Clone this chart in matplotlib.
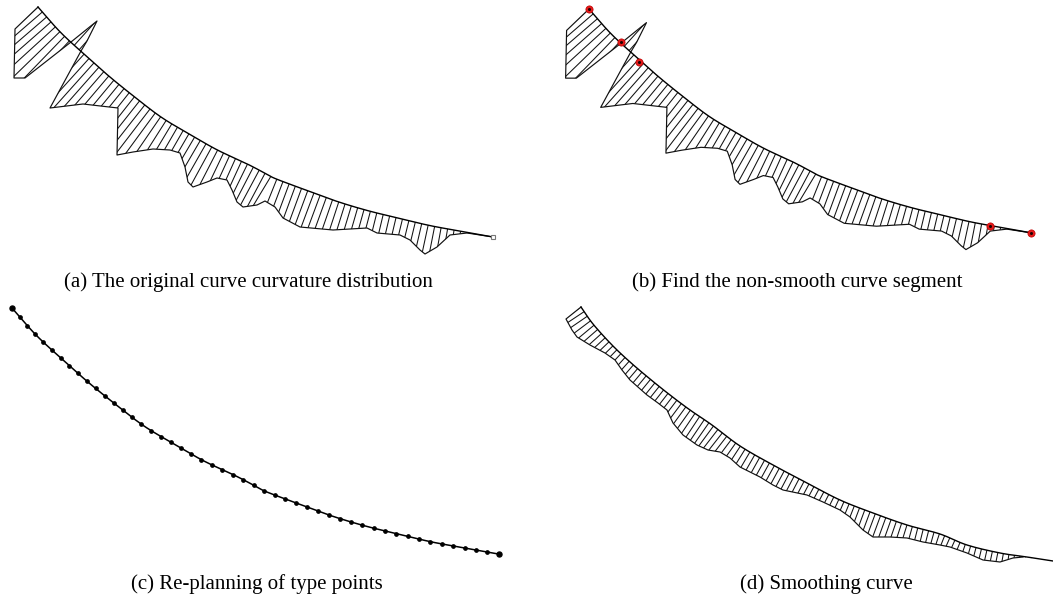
import numpy as np
import matplotlib
matplotlib.use("Agg")
import matplotlib.pyplot as plt
from matplotlib.patches import PathPatch
from matplotlib.path import Path
from matplotlib.collections import LineCollection

W, H, DPI = 1053, 598, 100

# ---- data ----
# original curve (type points), in panel-(a) units
curve_x = [38, 60.4, 84.7, 109, 134.3, 161.4, 189.4, 217.4, 247.3, 267, 276.3,
           306.2, 337, 368, 398.7, 430.5, 461.4, 493]
curve_y = [7, 32.2, 54.7, 76.2, 96.7, 117.3, 134.1, 150, 164, 174.3, 179,
           190.2, 201.4, 210.7, 218.2, 225.7, 231.3, 237]

# curvature comb outline of the original curve (tips of the teeth)
comb_a_x = [38, 15, 14, 25, 71, 97, 87, 81, 50, 83, 118, 117, 133, 153, 170, 180,
            185, 188, 193, 207, 217, 227, 232, 237, 243, 257, 265, 275, 283, 300,
            333, 367, 377, 400, 410, 420, 425, 437, 450, 467, 493]
comb_a_y = [7, 29, 78, 78, 42, 21, 41, 51, 108, 104, 108, 155, 152, 149, 150, 153,
            167, 182, 187, 182, 178, 180, 190, 202, 207, 205, 201, 207, 218, 227,
            230, 228, 233, 235, 240, 250, 254, 247, 235, 233, 237]

# non-smooth segment markers (panel b)
mark_x = [38, 70.8, 89.3, 449.7, 492]
mark_y = [7, 40.9, 61.4, 229.8, 237]

# number of re-planned type points (panel c)
n_type_points = 49

# smoothed curve and its comb (panel d, pixel units)
curve_d_x = [581, 593, 612, 630, 650, 670, 690, 712, 740, 773, 807, 840, 873, 907,
             940, 967, 1000, 1027, 1053]
curve_d_y = [307, 324, 345, 362, 379, 395, 410, 425, 446, 465, 483, 500, 513, 525,
             534, 545, 553, 557, 561]
comb_d_x = [581, 566, 572, 577, 590, 605, 615, 622, 630, 647, 658, 667, 673, 683, 697,
            708, 720, 730, 740, 760, 773, 783, 807, 823, 840, 850, 863, 873, 890,
            907, 923, 940, 950, 967, 983, 1000, 1013, 1023]
comb_d_y = [307, 319, 330, 337, 345, 353, 360, 370, 380, 395, 403, 410, 423, 435, 445,
            450, 452, 458, 467, 477, 485, 490, 495, 502, 510, 517, 530, 537, 537,
            538, 542, 545, 547, 553, 560, 562, 558, 557]

captions = ["(a) The original curve curvature distribution",
            "(b) Find the non-smooth curve segment",
            "(c) Re-planning of type points",
            "(d) Smoothing curve"]


# ---- helpers ----
def smooth(xs, ys, n=24):
    P = np.column_stack([xs, ys]).astype(float)
    P = np.vstack([2 * P[0] - P[1], P, 2 * P[-1] - P[-2]])
    t = np.linspace(0, 1, n, endpoint=False)[:, None]
    out = []
    for i in range(1, len(P) - 2):
        p0, p1, p2, p3 = P[i - 1], P[i], P[i + 1], P[i + 2]
        seg = 0.5 * ((2 * p1) + (-p0 + p2) * t + (2 * p0 - 5 * p1 + 4 * p2 - p3) * t ** 2
                     + (-p0 + 3 * p1 - 3 * p2 + p3) * t ** 3)
        out.append(seg)
    out.append(P[-2][None, :])
    return np.vstack(out)


def arclen(dense):
    d = np.hypot(*np.diff(dense, axis=0).T)
    return np.concatenate([[0], np.cumsum(d)])


def add_panel(fig, px_left, px_top, scale, xlim, ylim):
    w = scale * (xlim[1] - xlim[0])
    h = scale * (ylim[1] - ylim[0])
    ax = fig.add_axes([px_left / W, 1 - (px_top + h) / H, w / W, h / H])
    ax.set_xlim(*xlim)
    ax.set_ylim(ylim[1], ylim[0])
    ax.axis("off")
    return ax


def draw_comb(ax, cx, cy, ox, oy, spacing, L, lw_curve=1.0, lw_out=0.85, lw_teeth=0.75):
    dense = smooth(cx, cy)
    s = arclen(dense)
    sv = np.arange(0, s[-1], spacing)
    px = np.interp(sv, s, dense[:, 0])
    py = np.interp(sv, s, dense[:, 1])
    tx = np.gradient(dense[:, 0], s)
    ty = np.gradient(dense[:, 1], s)
    tx = np.interp(sv, s, tx)
    ty = np.interp(sv, s, ty)
    nn = np.hypot(tx, ty)
    nx, ny = -ty / nn, tx / nn
    segs = [[(x - L * a, y - L * b), (x + L * a, y + L * b)]
            for x, y, a, b in zip(px, py, nx, ny)]
    outline = np.column_stack([ox, oy]).astype(float)
    region = Path(np.vstack([dense, outline[::-1], dense[:1]]))
    patch = PathPatch(region, transform=ax.transData, facecolor="none",
                      edgecolor="none")
    ax.add_patch(patch)
    lc = LineCollection(segs, colors="#111111", linewidths=lw_teeth)
    ax.add_collection(lc)
    lc.set_clip_path(patch)
    ax.plot(outline[:, 0], outline[:, 1], color="#111111", lw=lw_out,
            solid_joinstyle="round", clip_on=False)
    ax.plot(dense[:, 0], dense[:, 1], color="black", lw=lw_curve, clip_on=False)
    return dense


fig = plt.figure(figsize=(W / DPI, H / DPI), dpi=DPI)
fig.patch.set_facecolor("white")

# (a)
ax_a = add_panel(fig, 0, 0, 1.0, (0, 527), (0, 262))
draw_comb(ax_a, curve_x, curve_y, comb_a_x, comb_a_y, spacing=6.6, L=80)
ax_a.plot(curve_x[-1], curve_y[-1], "s", ms=3, mfc="white", mec="#777777",
          mew=0.8, clip_on=False)

# (b)
sb = 0.974
ax_b = add_panel(fig, 589 - sb * 38, 9 - sb * 7, sb, (0, 515), (0, 262))
draw_comb(ax_b, curve_x, curve_y, comb_a_x, comb_a_y, spacing=6.6, L=80)
ax_b.plot(mark_x, mark_y, "o", ms=5.2, mfc="#e41a1a", mec="#c00000", mew=0.5,
          ls="none", clip_on=False)
ax_b.plot(mark_x, mark_y, "o", ms=2.2, mfc="#200000", mec="none", ls="none",
          clip_on=False)

# (c)
sc = 1.07
ax_c = add_panel(fig, 12 - sc * (38 - 30), 308 - sc * 7, sc, (30, 510), (0, 262))
dense_c = smooth(curve_x, curve_y)
s_c = arclen(dense_c)
ax_c.plot(dense_c[:, 0], dense_c[:, 1], color="black", lw=1.1, clip_on=False)
sp = np.linspace(0, s_c[-1], n_type_points)
tpx = np.interp(sp, s_c, dense_c[:, 0])
tpy = np.interp(sp, s_c, dense_c[:, 1])
ax_c.plot(tpx[1:-1], tpy[1:-1], "o", ms=2.4, color="black", ls="none", clip_on=False)
ax_c.plot(tpx[[0, -1]], tpy[[0, -1]], "o", ms=3.6, color="black", ls="none",
          clip_on=False)

# (d)
ax_d = add_panel(fig, 527, 299, 1.0, (527, 1053), (299, 598))
draw_comb(ax_d, curve_d_x, curve_d_y, comb_d_x, comb_d_y, spacing=5.6, L=45)

# captions
cap_pos = [(248, 282), (797, 282), (257, 584), (826, 584)]
for txt, (x, y) in zip(captions, cap_pos):
    fig.text(x / W, 1 - y / H, txt, ha="center", va="center", fontsize=15,
             family="Liberation Serif", color="black")

fig.savefig("out.png", dpi=DPI, facecolor="white")
